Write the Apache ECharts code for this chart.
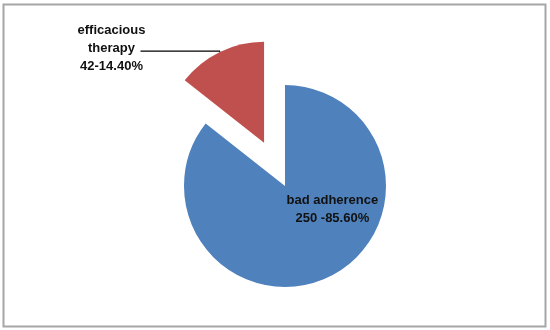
<!DOCTYPE html>
<html>
<head>
<meta charset="utf-8">
<script src="https://cdn.jsdelivr.net/npm/echarts@6/dist/echarts.min.js"></script>
<style>html,body{margin:0;padding:0;background:#fff}#c{width:550px;height:330px}</style>
</head>
<body>
<div id="c"></div>
<script>
var categories = ['bad adherence', 'efficacious therapy'];
var values = [250, 42];
var valueTexts = ['250 -85.60%', '42-14.40%'];
var nameLines = [['bad adherence'], ['efficacious', 'therapy']];
var colors = ['#4f81bd', '#c0504d'];

var chart = echarts.init(document.getElementById('c'), null, {renderer: 'canvas'});
var data = categories.map(function (n, i) {
  return {
    name: n,
    value: values[i],
    selected: i === 1,
    itemStyle: {color: colors[i]},
    label: i === 0 ? {position: 'inside'} : {position: 'outside'},
    labelLine: {show: i === 1}
  };
});
chart.setOption({
  animation: false,
  graphic: [{
    type: 'rect',
    shape: {x: 3.5, y: 4.5, width: 542, height: 322},
    style: {fill: 'none', stroke: '#a6a6a6', lineWidth: 2}
  }],
  series: [{
    type: 'pie',
    center: [285, 186],
    radius: 101,
    startAngle: 90,
    clockwise: true,
    selectedMode: 'single',
    selectedOffset: 48,
    emphasis: {disabled: true},
    data: data,
    label: {
      show: true,
      fontFamily: 'Liberation Sans',
      fontWeight: 'bold',
      fontSize: 13,
      color: '#111',
      lineHeight: 18,
      distanceToLabelLine: -8,
      formatter: function (p) {
        var lines = nameLines[p.dataIndex].concat([valueTexts[p.dataIndex]]);
        return lines.map(function (l) { return '{a|' + l + '}'; }).join('\n');
      },
      rich: {a: {width: 74, align: 'center', fontFamily: 'Liberation Sans', fontWeight: 'bold', fontSize: 13, lineHeight: 18, color: '#111'}}
    },
    labelLine: {length: 1, length2: 79, lineStyle: {color: '#000', width: 1.2}},
    labelLayout: function (p) {
      if (p.dataIndex === 0) return {dx: 24, dy: -25};
      return {dy: -3};
    }
  }]
});
</script>
</body>
</html>
